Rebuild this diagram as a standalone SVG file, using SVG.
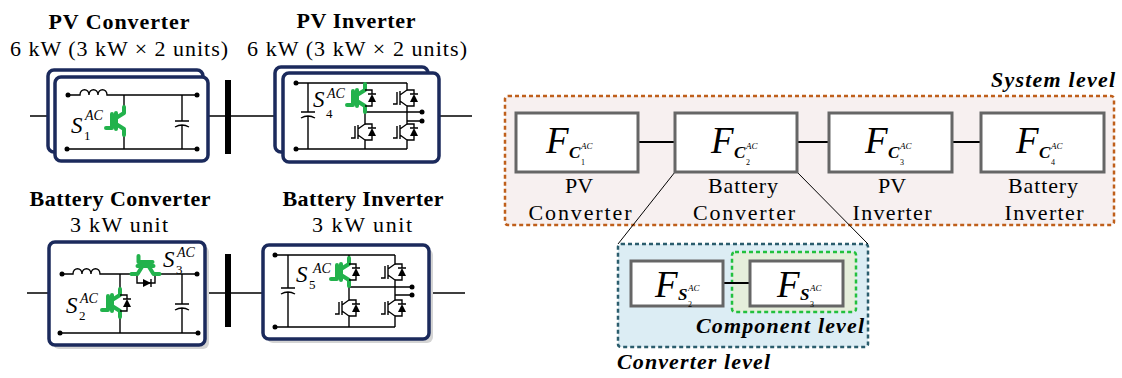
<svg xmlns="http://www.w3.org/2000/svg" xmlns:xlink="http://www.w3.org/1999/xlink" width="1122" height="378" viewBox="0 0 1122 378">
<style>
.t{font-family:"Liberation Serif",serif;font-weight:bold;font-size:22px;text-anchor:middle;fill:#000}
.st{font-family:"Liberation Serif",serif;font-size:22px;text-anchor:middle;fill:#000}
.lv{font-family:"Liberation Serif",serif;font-weight:bold;font-style:italic;font-size:22px;fill:#000}
.S{font-family:"Liberation Serif",serif;font-style:italic;font-size:23px}
.Ssup{font-family:"Liberation Serif",serif;font-style:italic;font-size:14px}
.Ssub{font-family:"Liberation Serif",serif;font-size:13px}
.F{font-family:"Liberation Serif",serif;font-style:italic;font-size:37px}
.Fs{font-family:"Liberation Serif",serif;font-style:italic;font-weight:bold;font-size:17px}
.Fsup{font-family:"Liberation Serif",serif;font-style:italic;font-size:9px}
.Fsub{font-family:"Liberation Serif",serif;font-size:8px}
.w{fill:none;stroke:#000;stroke-width:1.4}
.box{fill:#fff;stroke:#1b2a5c;stroke-width:3.5}
.shadow{fill:#d4d4d4}
.bus{fill:#000}
.blk{fill:#fff;stroke:#666;stroke-width:3}
.con{stroke:#000;stroke-width:2;fill:none}
.zl{stroke:#000;stroke-width:1;fill:none}
</style>
<defs>
<g id="igbt"><path class="w" d="M0,-13V-8L-7,-3M0,13V8L-7,3M-7,-7V7M-10,-6V6H-14"/></g>
<g id="dio"><path class="w" d="M0,-8H7V-4M0,8H7V4M3,-4H11"/><polygon points="3,4 11,4 7,-4" fill="#000"/></g>
<g id="sw"><use xlink:href="#igbt"/><use xlink:href="#dio"/></g>
<g id="gsw"><path d="M0,-14V-8L-8,-3M0,14V8L-8,3M-8,-8V8M-12,-7V7H-18" fill="none" stroke="#22b24c" stroke-width="4" stroke-linejoin="round" stroke-linecap="round"/></g>
<circle id="dot" r="2.5" fill="#000"/>
</defs>

<!-- PV Converter -->
<g id="pv-converter">
<text class="t" x="119" y="29" textLength="141">PV Converter</text>
<text class="st" x="119" y="56" textLength="218">6 kW (3 kW × 2 units)</text>
<path class="w" d="M30,116H48M208,116H226"/>
<rect class="box" x="48" y="70" width="155" height="82" rx="6"/>
<rect class="box" x="55" y="77" width="153" height="84" rx="6"/>
<path class="w" d="M68,95H80c0,-7 9,-7 9,0c0,-7 9,-7 9,0c0,-7 9,-7 9,0H197M67,149H197M124,95V107M124,135V149M182,95V121M175,121H189M175,127Q182,123 189,127M182,125V149"/>
<use xlink:href="#gsw" x="124" y="121"/>
<use xlink:href="#dot" x="68" y="95"/><use xlink:href="#dot" x="197" y="95"/>
<use xlink:href="#dot" x="67" y="149"/><use xlink:href="#dot" x="197" y="149"/>
<text class="S" x="71" y="133">S</text><text class="Ssup" x="85" y="120">AC</text><text class="Ssub" x="84" y="140">1</text>
</g>
<rect class="bus" x="225" y="80" width="6" height="74"/>

<!-- PV Inverter -->
<g id="pv-inverter">
<text class="t" x="356" y="28" textLength="119">PV Inverter</text>
<text class="st" x="357" y="56" textLength="220">6 kW (3 kW × 2 units)</text>
<path class="w" d="M231,116H275M439,116H472"/>
<rect class="box" x="275" y="67" width="153" height="85" rx="6"/>
<rect class="box" x="283" y="73" width="156" height="89" rx="6"/>
<path class="w" d="M296,83H407M296,149H407M308,83V112M301,112H315M301,118Q308,114 315,118M308,116V149M365,83V85M365,111V119M365,145V149M407,83V85M407,111V119M407,145V149M365,112H422M407,121H422"/>
<use xlink:href="#gsw" x="365" y="98"/><use xlink:href="#dio" x="365" y="98"/>
<use xlink:href="#sw" x="365" y="132"/>
<use xlink:href="#sw" x="407" y="98"/>
<use xlink:href="#sw" x="407" y="132"/>
<use xlink:href="#dot" x="296" y="83"/><use xlink:href="#dot" x="296" y="149"/>
<use xlink:href="#dot" x="422" y="112"/><use xlink:href="#dot" x="422" y="121"/>
<text class="S" x="313" y="107">S</text><text class="Ssup" x="327" y="98">AC</text><text class="Ssub" x="326" y="118">4</text>
</g>

<!-- Battery Converter -->
<g id="battery-converter">
<text class="t" x="120" y="206" textLength="181">Battery Converter</text>
<text class="st" x="119" y="232" textLength="98">3 kW unit</text>
<path class="w" d="M27,293H49M205,293H226"/>
<rect class="shadow" x="53" y="246" width="156" height="103" rx="6"/>
<rect class="box" x="49" y="242" width="156" height="103" rx="6"/>
<path class="w" d="M62,274H73c0,-7 9,-7 9,0c0,-7 9,-7 9,0c0,-7 9,-7 9,0H131.5M159.5,274H197M137,274V283H155V274M60,333H198M120,274V289M120,317V333M182,274V304M175,304H189M175,310Q182,306 189,310M182,308V333M151,279V287"/>
<polygon points="143,279 143,287 151,283" fill="#000"/>
<use xlink:href="#gsw" transform="translate(145.5,274) rotate(90)"/>
<use xlink:href="#gsw" x="120" y="303"/><use xlink:href="#dio" x="120" y="303"/>
<use xlink:href="#dot" x="62" y="274"/><use xlink:href="#dot" x="197" y="274"/>
<use xlink:href="#dot" x="60" y="333"/><use xlink:href="#dot" x="198" y="333"/>
<text class="S" x="163" y="267">S</text><text class="Ssup" x="177" y="257">AC</text><text class="Ssub" x="176" y="274">3</text>
<text class="S" x="66" y="313">S</text><text class="Ssup" x="80" y="303">AC</text><text class="Ssub" x="79" y="320">2</text>
</g>
<rect class="bus" x="225" y="254" width="6" height="73"/>

<!-- Battery Inverter -->
<g id="battery-inverter">
<text class="t" x="363" y="206" textLength="161">Battery Inverter</text>
<text class="st" x="362" y="232" textLength="100">3 kW unit</text>
<path class="w" d="M231,293H263M429,293H465"/>
<rect class="shadow" x="267" y="249" width="166" height="94" rx="6"/>
<rect class="box" x="263" y="245" width="166" height="94" rx="6"/>
<path class="w" d="M275,255H395M275,327H395M288,255V288M281,288H295M281,294Q288,290 295,294M288,292V327M349,255V259M349,285V295M349,321V327M395,255V259M395,285V295M395,321V327M349,287H412M395,295H412"/>
<use xlink:href="#gsw" x="349" y="272"/><use xlink:href="#dio" x="349" y="272"/>
<use xlink:href="#sw" x="349" y="308"/>
<use xlink:href="#sw" x="395" y="272"/>
<use xlink:href="#sw" x="395" y="308"/>
<use xlink:href="#dot" x="275" y="255"/><use xlink:href="#dot" x="275" y="327"/>
<use xlink:href="#dot" x="412" y="287"/><use xlink:href="#dot" x="412" y="295"/>
<text class="S" x="296" y="282">S</text><text class="Ssup" x="313" y="273">AC</text><text class="Ssub" x="309" y="289">5</text>
</g>

<!-- Level boxes -->
<g id="system-level">
<rect x="505" y="96" width="609" height="129" rx="3" fill="#f7f0f0" stroke="#bf5f1b" stroke-width="2.5" stroke-dasharray="4 3"/>
<text class="lv" x="1115" y="87" text-anchor="end" textLength="124">System level</text>
</g>
<g id="converter-level">
<rect x="618" y="244" width="250" height="103" rx="3" fill="#dcedf4" stroke="#2b5d6d" stroke-width="2.5" stroke-dasharray="4 3"/>
<text class="lv" x="617" y="369" textLength="153">Converter level</text>
</g>
<g id="component-level">
<rect x="732" y="252" width="124" height="60" rx="3" fill="#e5eedb" stroke="#22c03e" stroke-width="2.5" stroke-dasharray="4 3"/>
<text class="lv" x="864" y="333" text-anchor="end" textLength="168">Component level</text>
</g>

<!-- Connectors -->
<g id="connectors">
<path class="con" d="M638,142H675M797,142H829M952,142H981M723,283H750"/>
<path class="zl" d="M675,172L618,244M797,172L868,244"/>
</g>

<!-- Blocks -->
<g id="fc1">
<rect class="blk" x="516" y="113" width="122" height="59"/>
<text class="F" x="546" y="153">F</text><text class="Fs" x="569" y="158">C</text><text class="Fsup" x="581" y="149">AC</text><text class="Fsub" x="581" y="165">1</text>
<text class="st" x="579" y="193">PV</text>
<text class="st" x="580" y="220" textLength="103">Converter</text>
</g>
<g id="fc2">
<rect class="blk" x="675" y="113" width="122" height="59"/>
<text class="F" x="711" y="153">F</text><text class="Fs" x="734" y="158">C</text><text class="Fsup" x="746" y="149">AC</text><text class="Fsub" x="746" y="165">2</text>
<text class="st" x="743" y="193" textLength="70">Battery</text>
<text class="st" x="744" y="220" textLength="102">Converter</text>
</g>
<g id="fc3">
<rect class="blk" x="829" y="113" width="123" height="59"/>
<text class="F" x="865" y="153">F</text><text class="Fs" x="888" y="158">C</text><text class="Fsup" x="900" y="149">AC</text><text class="Fsub" x="900" y="165">3</text>
<text class="st" x="892" y="193">PV</text>
<text class="st" x="892" y="220" textLength="79">Inverter</text>
</g>
<g id="fc4">
<rect class="blk" x="981" y="113" width="123" height="59"/>
<text class="F" x="1016" y="153">F</text><text class="Fs" x="1039" y="158">C</text><text class="Fsup" x="1051" y="149">AC</text><text class="Fsub" x="1051" y="165">4</text>
<text class="st" x="1043" y="193" textLength="70">Battery</text>
<text class="st" x="1044" y="220" textLength="79">Inverter</text>
</g>
<g id="fs2">
<rect class="blk" x="631" y="261" width="92" height="45"/>
<text class="F" x="655" y="297">F</text><text class="Fs" x="678" y="300">S</text><text class="Fsup" x="688" y="291">AC</text><text class="Fsub" x="688" y="307">2</text>
</g>
<g id="fs3">
<rect class="blk" x="750" y="261" width="93" height="45"/>
<text class="F" x="777" y="297">F</text><text class="Fs" x="800" y="300">S</text><text class="Fsup" x="810" y="291">AC</text><text class="Fsub" x="810" y="307">3</text>
</g>
</svg>
